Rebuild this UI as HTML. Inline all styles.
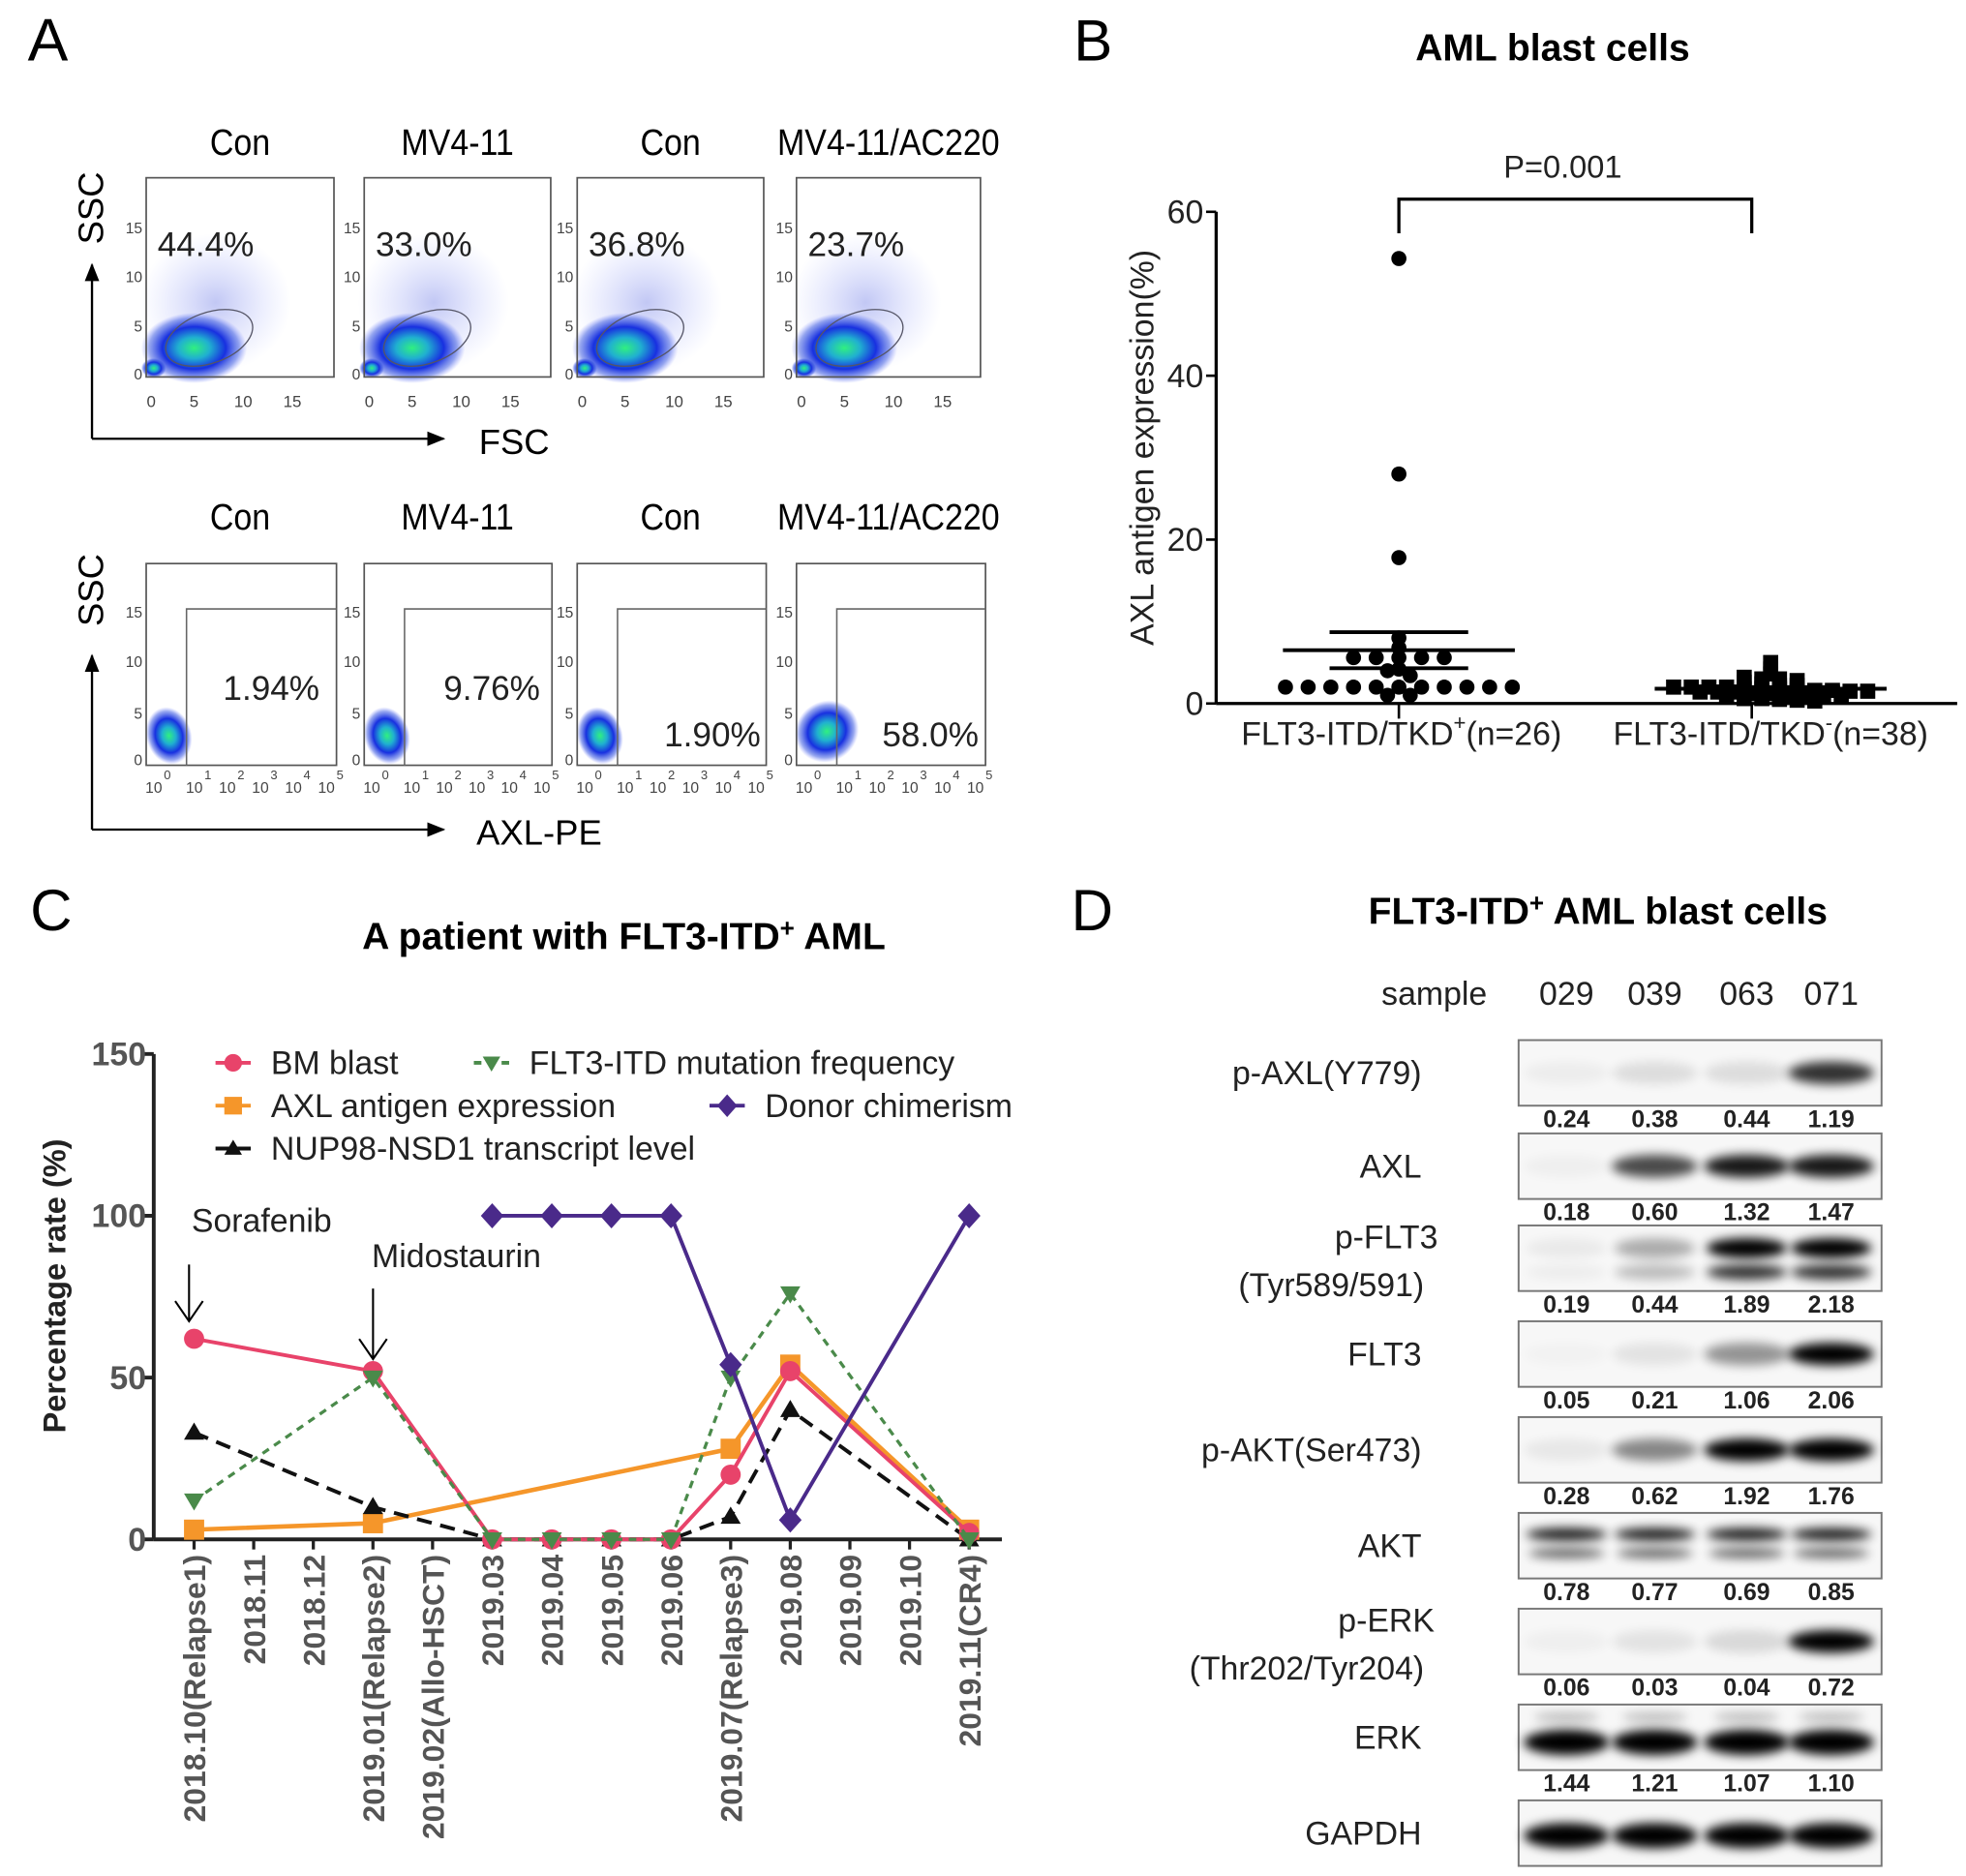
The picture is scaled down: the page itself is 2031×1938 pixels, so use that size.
<!DOCTYPE html>
<html><head><meta charset="utf-8"><style>
html,body{margin:0;padding:0;background:#fff}
svg{display:block}
text{font-family:"Liberation Sans",Arial,sans-serif}
</style></head><body>
<svg id="fig" width="2031" height="1938" viewBox="0 0 1560 1488" preserveAspectRatio="none" xmlns="http://www.w3.org/2000/svg">
<defs>
<radialGradient id="blob" cx="50%" cy="50%" r="50%">
<stop offset="0" stop-color="#30f080"/><stop offset="0.3" stop-color="#20b0d0"/><stop offset="0.6" stop-color="#1830e0"/><stop offset="0.85" stop-color="#3050e0" stop-opacity="0.5"/><stop offset="1" stop-color="#6070ff" stop-opacity="0"/>
</radialGradient>
<radialGradient id="haze" cx="50%" cy="50%" r="50%">
<stop offset="0" stop-color="#5060e0" stop-opacity="0.35"/><stop offset="1" stop-color="#8090ff" stop-opacity="0"/>
</radialGradient>
<filter id="blur" x="-30%" y="-100%" width="160%" height="300%"><feGaussianBlur stdDeviation="4"/></filter>
<marker id="arr" viewBox="0 0 10 10" refX="9" refY="5" markerWidth="8" markerHeight="8" orient="auto"><path d="M0,1 L10,5 L0,9 z" fill="#000"/></marker>
</defs>

<g id="panelA">
<text x="22" y="48" font-size="48">A</text>
</g>
<g id="panelB">
<text x="852" y="48" font-size="46">B</text>
<text x="1232" y="48" font-size="30" font-weight="bold" text-anchor="middle">AML blast cells</text>
</g>
<g id="panelC">
<text x="24" y="738" font-size="46">C</text>
<text x="495" y="753" font-size="30" font-weight="bold" text-anchor="middle">A patient with FLT3-ITD<tspan font-size="20" dy="-10">+</tspan><tspan dy="10"> AML</tspan></text>
</g>
<g id="panelD">
<text x="850" y="738" font-size="46">D</text>
<text x="1268" y="733" font-size="30" font-weight="bold" text-anchor="middle">FLT3-ITD<tspan font-size="20" dy="-10">+</tspan><tspan dy="10"> AML blast cells</tspan></text>
</g>
</svg>
<script>
const NS="http://www.w3.org/2000/svg";
function mk(parent,tag,attrs,txt){const e=document.createElementNS(NS,tag);for(const k in attrs)e.setAttribute(k,attrs[k]);if(txt!==undefined)e.textContent=txt;parent.appendChild(e);return e;}

/* ---------- Panel A ---------- */
const flowTitles=["Con","MV4-11","Con","MV4-11/AC220"];
const fscPercents=["44.4%","33.0%","36.8%","23.7%"];
const axlPercents=["1.94%","9.76%","1.90%","58.0%"];
const A=document.getElementById('panelA');
const boxX1=[116,289,458,632], boxX2=[265,437,606,778];
const row2X2=[267,438,608,782];
const axlPctPos=[[177,555],[352,555],[527,592],[700,592]];
for(let i=0;i<4;i++){
  const cx=(boxX1[i]+boxX2[i])/2;
  let t=mk(A,'text',{x:cx,y:123,'font-size':29,'text-anchor':'middle',transform:`translate(${cx},0) scale(0.9,1) translate(${-cx},0)`},flowTitles[i]);
  
  
  t=mk(A,'text',{x:cx,y:420,'font-size':29,'text-anchor':'middle',transform:`translate(${cx},0) scale(0.9,1) translate(${-cx},0)`},flowTitles[i]);
  
  
  const x1=boxX1[i],x2=boxX2[i];
  const g=mk(A,'g',{});
  
  
  mk(g,'ellipse',{cx:x1+55,cy:240,rx:60,ry:55,fill:'url(#haze)'});
  mk(g,'ellipse',{cx:x1+38,cy:276,rx:42,ry:28,fill:'url(#blob)'});
  mk(g,'ellipse',{cx:x1+6,cy:292,rx:10,ry:8,fill:'url(#blob)'});
  mk(g,'ellipse',{cx:x1+50,cy:268,rx:36,ry:20,fill:'none',stroke:'#556','stroke-width':1,transform:`rotate(-20 ${x1+50} 268)`});
  mk(g,'rect',{x:x1,y:141,width:x2-x1,height:158,fill:'none',stroke:'#555','stroke-width':1.3});
  [["15",180],["10",219],["5",258],["0",296]].forEach(([s,y])=>mk(g,'text',{x:x1-3,y:y+5,'font-size':12,'text-anchor':'end',fill:'#444'},s));
  [["0",4],["5",38],["10",77],["15",116]].forEach(([s,dx])=>mk(g,'text',{x:x1+dx,y:323,'font-size':13,'text-anchor':'middle',fill:'#444'},s));
  t=mk(A,'text',{x:x1+9,y:203,'font-size':27,fill:'#222'},fscPercents[i]);
  
  
  const r2=row2X2[i];
  const g2=mk(A,'g',{});
  
  
  const big=i===3;
  mk(g2,'ellipse',{cx:x1+(big?25:18),cy:583,rx:big?26:18,ry:big?24:23,fill:'url(#blob)',transform:`rotate(${big?-35:-15} ${x1+20} 583)`});
  mk(g2,'rect',{x:x1,y:447,width:r2-x1,height:160,fill:'none',stroke:'#555','stroke-width':1.3});
  mk(g2,'polyline',{points:`${x1+32},607 ${x1+32},483 ${r2},483`,fill:'none',stroke:'#666','stroke-width':1.2});
  [["15",485],["10",524],["5",565],["0",602]].forEach(([s,y])=>mk(g2,'text',{x:x1-3,y:y+5,'font-size':12,'text-anchor':'end',fill:'#444'},s));
  for(let k=0;k<6;k++){const xx=x1+12+k*(r2-x1-20)/5+(k==0?-6:0);
    mk(g2,'text',{x:xx,y:629,'font-size':12,'text-anchor':'middle',fill:'#444'},"10");
    mk(g2,'text',{x:xx+8,y:618,'font-size':10,fill:'#444'},String(k));}
  t=mk(A,'text',{x:axlPctPos[i][0],y:axlPctPos[i][1],'font-size':27,fill:'#222'},axlPercents[i]);
  
  
}
[[348,210,'FSC',380,360,'SSC',165],[658,520,'AXL-PE',378,670,'SSC',468]].forEach(([yb,yt,lab,lx,ly,ys,yy])=>{
  let l=mk(A,'line',{x1:73,y1:yb,x2:73,y2:yt,stroke:'#000','stroke-width':1.8,'marker-end':'url(#arr)'});
  
  
  l=mk(A,'line',{x1:73,y1:yb,x2:352,y2:yb,stroke:'#000','stroke-width':1.8,'marker-end':'url(#arr)'});
  
  
  let t=mk(A,'text',{x:lx,y:ly,'font-size':28},lab);
  
  
  t=mk(A,'text',{x:82,y:yy,'font-size':28,'text-anchor':'middle',transform:`rotate(-90 82 ${yy})`},ys);
  
  
});

/* ---------- Panel B ---------- */
const bCategories=["FLT3-ITD/TKD","FLT3-ITD/TKD"];
const bSigns=["+","-"];
const bCounts=["(n=26)","(n=38)"];
const bTicks=[0,20,40,60];
const groupPos=[54.3,28,17.8,8,6.8,5.6,5.6,5.6,5.6,5.6,4,4.2,3.4,2,2,2,2,2,2,2,2,2,2,2,1,1];
const groupNeg=[5,4.2,3.6,3.2,3,3,2.8,2.6,2.4,2.2,2.2,2,2,2,2,1.8,1.8,1.8,1.6,1.6,1.6,1.5,1.5,1.4,1.4,1.4,1.2,1.2,1,1,1,1,0.8,0.6,0.6,0.5,0.4,0.3];
const posMean=6.5, posSem=2.2;
const negMean=1.8, negSem=0.2;
const pText="P=0.001";
const B=document.getElementById('panelB');
const bx0=965,bx1=1553,by0=558,by1=168,bymax=60;
const bY=v=>by0-(v/bymax)*(by0-by1);
const catX=[1110,1390];
mk(B,'line',{x1:bx0,y1:by1,x2:bx0,y2:by0,stroke:'#000','stroke-width':2.5});
mk(B,'line',{x1:bx0,y1:by0,x2:bx1,y2:by0,stroke:'#000','stroke-width':2.5});
bTicks.forEach(v=>{
  const tk=mk(B,'line',{x1:bx0-8,y1:bY(v),x2:bx0,y2:bY(v),stroke:'#000','stroke-width':2});
  
  
  const t=mk(B,'text',{x:bx0-10,y:bY(v)+9,'font-size':26,'text-anchor':'end',fill:'#222'},String(v));
  
  
});
let bt=mk(B,'text',{x:915,y:355,'font-size':26,'text-anchor':'middle',transform:'rotate(-90 915 355)',fill:'#222'},"AXL antigen expression(%)");


const labelX=[1112,1405];
for(let c=0;c<2;c++){
  mk(B,'line',{x1:catX[c],y1:by0,x2:catX[c],y2:by0+12,stroke:'#000','stroke-width':2});
  const t=mk(B,'text',{x:labelX[c],y:591,'font-size':26,'text-anchor':'middle',fill:'#222'});
  
  
  mk(t,'tspan',{},bCategories[c]);mk(t,'tspan',{'font-size':17,dy:-12},bSigns[c]);mk(t,'tspan',{dy:12},bCounts[c]);
}
function swarm(vals,cx,step,shape,binW){
  const bins={};
  vals.forEach(v=>{const k=Math.round(v/binW);(bins[k]=bins[k]||[]).push(v);});
  Object.values(bins).forEach(arr=>{
    arr.forEach((v,j)=>{
      const off=(j-(arr.length-1)/2)*step;
      let m;
      if(shape==='circle'){m=mk(B,'circle',{cx:cx+off,cy:bY(v),r:6,fill:'#000'});}
      else{m=mk(B,'rect',{x:cx+off-6,y:bY(v)-6,width:12,height:12,fill:'#000'});}
      
      
    });
  });
}
swarm(groupPos,catX[0],18,'circle',1.2);
swarm(groupNeg,catX[1]+15,14,'square',0.6);
[[catX[0],posMean,posSem,92,55],[catX[1]+15,negMean,negSem,92,55]].forEach(([cx,m,s,w,ws])=>{
  let l=mk(B,'line',{x1:cx-w,y1:bY(m),x2:cx+w,y2:bY(m),stroke:'#000','stroke-width':3});
  
  
  [m+s,m-s].forEach(v=>{const e=mk(B,'line',{x1:cx-ws,y1:bY(v),x2:cx+ws,y2:bY(v),stroke:'#000','stroke-width':3});
    
    });
  mk(B,'line',{x1:cx,y1:bY(m-s),x2:cx,y2:bY(m+s),stroke:'#000','stroke-width':3});
});
const br=mk(B,'polyline',{points:`${catX[0]},185 ${catX[0]},158 ${catX[1]},158 ${catX[1]},185`,fill:'none',stroke:'#000','stroke-width':2.5});


bt=mk(B,'text',{x:1240,y:141,'font-size':25,'text-anchor':'middle',fill:'#222'},pText);



/* ---------- Panel C ---------- */
const cCategories=["2018.10(Relapse1)","2018.11","2018.12","2019.01(Relapse2)","2019.02(Allo-HSCT)","2019.03","2019.04","2019.05","2019.06","2019.07(Relapse3)","2019.08","2019.09","2019.10","2019.11(CR4)"];
const cTicks=[0,50,100,150];
const bmBlast=[62,null,null,52,null,0,0,0,0,20,52,null,null,2];
const flt3Freq=[12,null,null,50,null,0,0,0,0,50,76,null,null,0];
const axlExpr=[3,null,null,5,null,null,null,null,null,28,54,null,null,3];
const donorChim=[null,null,null,null,null,100,100,100,100,54,6,null,null,100];
const nup98=[33,null,null,10,null,0,0,0,0,7,40,null,null,0];
const C=document.getElementById('panelC');
const cx0=122,cx1=795,cy0=1221,cy1=836;
const cX=i=>154+i*(769-154)/(cCategories.length-1);
const cY=v=>cy0-(v/150)*(cy0-cy1);
mk(C,'line',{x1:cx0,y1:cy1,x2:cx0,y2:cy0,stroke:'#222','stroke-width':3});
mk(C,'line',{x1:cx0,y1:cy0,x2:cx1,y2:cy0,stroke:'#222','stroke-width':3});
cTicks.forEach(v=>{
  mk(C,'line',{x1:cx0-8,y1:cY(v),x2:cx0,y2:cY(v),stroke:'#222','stroke-width':3});
  const t=mk(C,'text',{x:cx0-6,y:cY(v)+9,'font-size':26,'font-weight':'bold','text-anchor':'end',fill:'#555'},String(v));
  
  
});
cCategories.forEach((s,i)=>{
  const x=cX(i);
  mk(C,'line',{x1:x,y1:cy0,x2:x,y2:cy0+8,stroke:'#222','stroke-width':2.5});
  const t=mk(C,'text',{x:x+9,y:cy0+12,'font-size':24.5,'font-weight':'bold','text-anchor':'end',fill:'#555',transform:`rotate(-90 ${x+9} ${cy0+12})`},s);
  
  
});
let ct=mk(C,'text',{x:52,y:1020,'font-size':25,'font-weight':'bold','text-anchor':'middle',transform:'rotate(-90 52 1020)',fill:'#222'},"Percentage rate (%)");


function marker(g,shape,x,y,color,size){
  const s=size||8;
  if(shape==='circle')return mk(g,'circle',{cx:x,cy:y,r:s,fill:color});
  if(shape==='square')return mk(g,'rect',{x:x-s,y:y-s,width:2*s,height:2*s,fill:color});
  if(shape==='diamond')return mk(g,'polygon',{points:`${x},${y-s-2} ${x+s+1},${y} ${x},${y+s+2} ${x-s-1},${y}`,fill:color});
  if(shape==='tri')return mk(g,'polygon',{points:`${x},${y-s} ${x+s},${y+s*0.7} ${x-s},${y+s*0.7}`,fill:color});
  if(shape==='tridown')return mk(g,'polygon',{points:`${x},${y+s} ${x+s},${y-s*0.7} ${x-s},${y-s*0.7}`,fill:color});
}
const seriesList=[
 [axlExpr,'#f5962a','square','',3.5,'series-axl-expression'],
 [nup98,'#111','tri','12 7',3,'series-nup98-nsd1'],
 [bmBlast,'#e8436a','circle','',3,'series-bm-blast'],
 [flt3Freq,'#4a8a4a','tridown','6 5',2.5,'series-flt3-itd-frequency'],
 [donorChim,'#4a2a8a','diamond','',3,'series-donor-chimerism']
];
seriesList.forEach(([arr,col,shape,dash,w,name])=>{
  const g=mk(C,'g',{});
  
  
  const pts=[];arr.forEach((v,i)=>{if(v!==null)pts.push(`${cX(i)},${cY(v)}`);});
  mk(g,'polyline',{points:pts.join(' '),fill:'none',stroke:col,'stroke-width':w,'stroke-dasharray':dash});
  arr.forEach((v,i)=>{if(v!==null){const m=marker(g,shape,cX(i),cY(v),col);
    
    }});
});
const legendItems=[["BM blast",'#e8436a','circle','',185,843],["FLT3-ITD mutation frequency",'#4a8a4a','tridown','6 5',390,843],["AXL antigen expression",'#f5962a','square','',185,877],["Donor chimerism",'#4a2a8a','diamond','',577,877],["NUP98-NSD1 transcript level",'#111','tri','',185,911]];
legendItems.forEach(([lab,col,shape,dash,x,y])=>{
  const g=mk(C,'g',{});
  
  
  mk(g,'line',{x1:x-14,y1:y,x2:x+14,y2:y,stroke:col,'stroke-width':3,'stroke-dasharray':dash});
  marker(g,shape,x,y,col,7);
  mk(g,'text',{x:x+30,y:y+9,'font-size':26,fill:'#222'},lab);
});
[["Sorafenib",152,977,150,1003,1048],["Midostaurin",295,1005,296,1022,1078]].forEach(([s,tx,ty,ax,ay1,ay2])=>{
  const t=mk(C,'text',{x:tx,y:ty,'font-size':26,fill:'#222'},s);
  
  
  const a=mk(C,'polyline',{points:`${ax},${ay1} ${ax},${ay2}`,stroke:'#000','stroke-width':1.6,fill:'none'});
  
  
  mk(C,'polyline',{points:`${ax-11},${ay2-16} ${ax},${ay2} ${ax+11},${ay2-16}`,stroke:'#000','stroke-width':1.6,fill:'none'});
});

/* ---------- Panel D ---------- */
const samples=["029","039","063","071"];
const blotNames=["p-AXL(Y779)","AXL","p-FLT3\n(Tyr589/591)","FLT3","p-AKT(Ser473)","AKT","p-ERK\n(Thr202/Tyr204)","ERK","GAPDH"];
const quantValues=[
 ["0.24","0.38","0.44","1.19"],["0.18","0.60","1.32","1.47"],["0.19","0.44","1.89","2.18"],["0.05","0.21","1.06","2.06"],
 ["0.28","0.62","1.92","1.76"],["0.78","0.77","0.69","0.85"],["0.06","0.03","0.04","0.72"],["1.44","1.21","1.07","1.10"]];
const bandIntensity=[
 [0.04,0.1,0.1,0.8],[0.03,0.7,0.9,0.9],[0.05,0.3,1,1],[0.02,0.08,0.4,1],[0.06,0.45,1,1],[1,1,1,1],[0.03,0.08,0.12,1],[1,1,1,1],[1,1,1,1]];
const D=document.getElementById('panelD');
const laneX=[1243,1313,1386,1453];
const blotTop=[825,899,972,1048,1124,1200,1276,1352,1428];
let dt=mk(D,'text',{x:1180,y:797,'font-size':26,'text-anchor':'end',fill:'#222'},"sample");


samples.forEach((s,i)=>{const t=mk(D,'text',{x:laneX[i],y:797,'font-size':26,'text-anchor':'middle',fill:'#222'},s);
  
  });
blotNames.forEach((name,r)=>{
  const y=blotTop[r],h=52;
  const g=mk(D,'g',{});
  
  
  const lines=name.split("\n");
  if(lines.length===1){mk(g,'text',{x:1128,y:y+h/2+9,'font-size':26,'text-anchor':'end',fill:'#222'},lines[0]);}
  else{mk(g,'text',{x:1100,y:y+18,'font-size':26,'text-anchor':'middle',fill:'#222'},lines[0]);
       mk(g,'text',{x:1130,y:y+56,'font-size':26,'text-anchor':'end',fill:'#222'},lines[1]);}
  mk(g,'rect',{x:1205,y:y,width:288,height:h,fill:'#f7f7f7',stroke:'#777','stroke-width':1.5});
  bandIntensity[r].forEach((v,i)=>{
    const bx=laneX[i];
    if(r===5){mk(g,'ellipse',{cx:bx,cy:y+17,rx:32,ry:5,fill:'#000',opacity:0.9,filter:'url(#blur)'});
              mk(g,'ellipse',{cx:bx,cy:y+32,rx:30,ry:4,fill:'#000',opacity:0.6,filter:'url(#blur)'});}
    else if(r===2){mk(g,'ellipse',{cx:bx,cy:y+18,rx:32,ry:8,fill:'#000',opacity:v,filter:'url(#blur)'});
                   mk(g,'ellipse',{cx:bx,cy:y+37,rx:32,ry:6,fill:'#000',opacity:v*0.8,filter:'url(#blur)'});}
    else if(r===7){mk(g,'ellipse',{cx:bx,cy:y+10,rx:26,ry:3,fill:'#000',opacity:0.3,filter:'url(#blur)'});
                   mk(g,'ellipse',{cx:bx,cy:y+30,rx:34,ry:10,fill:'#000',opacity:1,filter:'url(#blur)'});}
    else{mk(g,'ellipse',{cx:bx,cy:y+h/2+(r===8?2:0),rx:34,ry:r===8?10:9,fill:'#000',opacity:v,filter:'url(#blur)'});}
  });
  if(r<quantValues.length){quantValues[r].forEach((q,i)=>{
    const t=mk(g,'text',{x:laneX[i],y:y+h+17,'font-size':19,'font-weight':'bold','text-anchor':'middle',fill:'#222'},q);
    
    });}
});
</script>
</body></html>
